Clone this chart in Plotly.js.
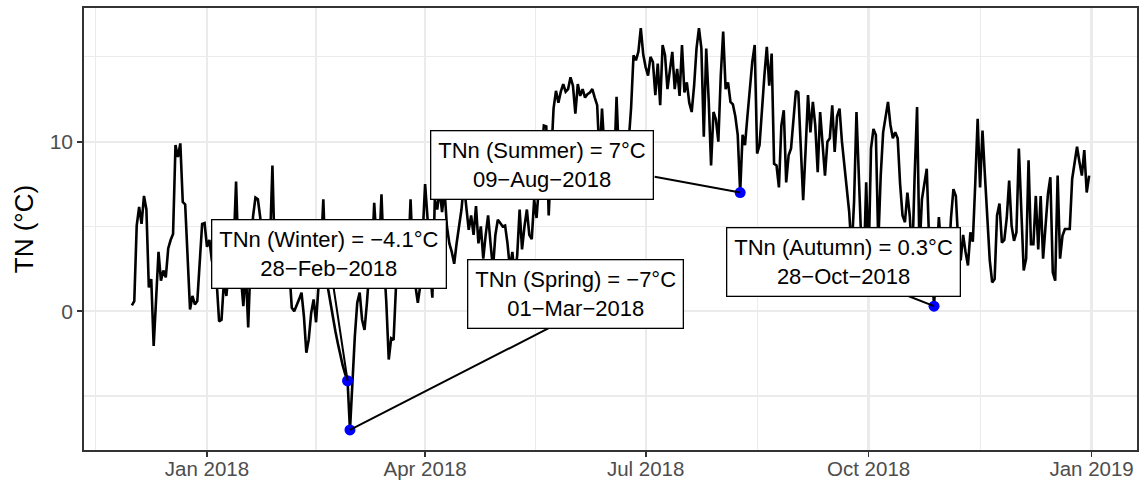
<!DOCTYPE html>
<html>
<head>
<meta charset="utf-8">
<script src="https://cdn.plot.ly/plotly-3.0.1.min.js"></script>
<style>html,body{margin:0;padding:0;background:#fff;}#chart{width:1143px;height:483px;}</style>
</head>
<body>
<div id="chart"></div>
<script>
// Daily minimum temperature TN (°C), 2017-12-01 .. 2018-12-31
var startDate = '2017-12-01';
var tnValues = [
  0.35, 0.6, 5.05, 6.15, 5.15, 6.8, 6.0, 1.4, 1.9, -2.05,
  0.7, 3.5, 1.8, 2.4, 2.0, 3.7, 4.2, 4.55, 9.8, 9.1,
  9.9, 6.45, 6.3, 3.0, 0.1, 0.9, 0.4, 0.6, 2.8, 5.15,
  5.2, 3.8, 4.2, 3.0, 2.5, 1.7, -0.6, -0.5, 1.8, 0.9,
  2.5, 3.5, 3.8, 7.65, 3.0, 2.0, 0.3, 2.5, -0.95, 3.0,
  5.6, 6.7, 6.6, 5.5, 3.5, 2.5, 3.5, 4.0, 8.6, 3.0,
  2.2, 4.0, 3.5, 2.5, 4.5, 2.0, 0.2, 0.0, 0.3, 0.7,
  1.1, -0.3, -2.45, -1.65, -0.1, 0.7, -0.65, 1.5, 3.5, 6.6,
  2.5, 1.3, 0.4, -0.5, -1.2, -1.9, -2.6, -3.2, -3.7, -4.1,
  -7.0, -4.0, -1.5, 0.5, 1.1, -0.5, -1.1, 0.5, 2.5, 3.0,
  6.4, 4.0, 3.5, 6.9, 3.0, 0.5, -2.85, -1.6, -1.7, 1.5,
  2.5, 3.5, 4.0, 2.8, 3.0, 6.6, 3.0, 1.5, 0.5, 1.5,
  4.5, 7.5, 5.5, 2.5, 0.8, 6.6, 6.0, 7.2, 5.85, 7.2,
  5.0, 4.0, 3.5, 2.8, 4.0, 5.05, 6.0, 7.5, 6.2, 4.8,
  5.65, 4.5, 6.2, 4.0, 5.0, 3.1, 4.5, 5.65, 4.0, 2.5,
  4.5, 5.4, 5.2, 5.0, 5.05, 4.0, 2.5, 3.5, 2.0, 3.3,
  6.0, 3.65, 5.0, 6.0, 4.5, 4.25, 6.6, 5.5, 7.5, 9.0,
  10.95, 10.9, 5.65, 9.0, 11.95, 13.0, 12.3, 12.95, 13.4, 12.95,
  13.1, 13.8, 13.3, 11.65, 13.4, 12.7, 13.1, 12.6, 12.8, 12.9,
  13.1, 12.6, 12.15, 9.0, 11.95, 9.5, 8.0, 10.0, 9.0, 8.5,
  12.65, 9.0, 8.0, 9.5, 7.5, 10.0,
  12.0, 15.1, 14.8, 15.3, 16.7, 15.15, 14.4, 13.9, 15.0, 14.7,
  12.75, 14.6, 12.15, 15.7, 15.1, 13.1, 14.3, 15.3, 13.1, 14.3,
  12.7, 15.7, 12.9, 13.5, 12.3, 11.75, 13.3, 15.5, 16.7, 15.5,
  10.3, 15.5, 12.5, 8.6, 11.75, 11.3, 10.0, 13.9, 16.5, 13.1,
  13.5, 12.35, 12.2, 11.5, 10.4, 7.0,
  10.4, 9.8, 11.5, 13.1, 14.7, 15.7, 9.3, 9.8, 12.0, 13.9,
  15.6, 13.3, 15.2, 8.7, 8.6, 7.3, 10.95, 11.85, 7.6,
  9.2, 9.6, 11.55, 13.0, 12.9, 9.5, 6.55, 9.5, 12.75, 10.55,
  12.35, 10.95, 8.2, 11.75, 9.8, 8.0, 10.0, 10.2, 12.15, 9.4,
  11.5, 11.95, 10.0, 8.6, 7.3, 5.85, 3.5, 6.45, 11.75, 8.2,
  4.0, 2.5, 7.6, 3.0, 9.6, 10.75, 10.4,
  4.0, 8.0, 10.55, 11.5, 12.35, 11.0, 10.2, 10.55, 10.2, 7.5,
  5.65, 5.25, 7.0, 5.6, 3.0, 8.0, 12.05, 3.5, 6.6, 7.5,
  8.4, 4.0, 3.0, 0.3, 3.0, 5.55, 3.5, 2.5, 4.5, 3.0,
  5.5, 7.2, 6.8, 4.0, 3.0, 4.5, 3.5,
  2.7, 4.65, 4.1, 7.5, 11.35, 7.3, 10.65, 8.0, 5.05, 3.0,
  1.7, 1.9, 5.65, 6.35, 4.05, 4.2, 5.5, 7.7, 5.05, 4.15,
  4.65, 9.6, 6.0, 2.4, 3.1, 8.9, 3.95, 3.95, 6.8, 3.65,
  6.8, 3.1, 5.0, 6.9, 7.9, 2.3, 1.8, 8.0, 3.1, 4.45,
  4.85, 4.85, 4.85, 7.8, 8.8, 9.7, 8.8, 8.0, 9.5, 7.0,
  8.0
];

// Seasonal minima (TNn)
var seasons = ['Winter', 'Spring', 'Summer', 'Autumn'];
var minDates = ['2018-02-28', '2018-03-01', '2018-08-09', '2018-10-28'];
var minLabels = ['28\u2212Feb\u22122018', '01\u2212Mar\u22122018', '09\u2212Aug\u22122018', '28\u2212Oct\u22122018'];
var minValues = [-4.1, -7, 7, 0.3];

// ---- build daily date axis ----
function pad(n){ return (n < 10 ? '0' : '') + n; }
var dates = [];
var t0 = Date.parse(startDate + 'T00:00:00Z');
for (var i = 0; i < tnValues.length; i++) {
  var d = new Date(t0 + i * 86400000);
  dates.push(d.getUTCFullYear() + '-' + pad(d.getUTCMonth() + 1) + '-' + pad(d.getUTCDate()));
}

function fmtNum(v){ return (v < 0 ? '\u2212' : '') + Math.abs(v); }

var lineTrace = {
  type: 'scatter', mode: 'lines',
  x: dates, y: tnValues,
  line: {color: '#000000', width: 2.6},
  hoverinfo: 'skip'
};
var pointTrace = {
  type: 'scatter', mode: 'markers',
  x: minDates, y: minValues,
  marker: {color: '#0000FF', size: 11},
  hoverinfo: 'skip'
};

// label placement (pixel offsets of box centre and connector end from the point)
var boxShift = [[-19, 127], [226, 136], [-198, 28], [-91, 44]];
var connEnd  = [[-15, -100], [209, -107], [-87, -16], [-33, -13]];

var annotations = [];
for (var k = 0; k < seasons.length; k++) {
  annotations.push({
    x: minDates[k], y: minValues[k], xref: 'x', yref: 'y',
    text: '', showarrow: true, arrowhead: 0, arrowwidth: 2,
    arrowcolor: '#000000', standoff: 0, startstandoff: 0,
    ax: connEnd[k][0], ay: connEnd[k][1]
  });
}
for (var k2 = 0; k2 < seasons.length; k2++) {
  annotations.push({
    x: minDates[k2], y: minValues[k2], xref: 'x', yref: 'y',
    showarrow: false, xanchor: 'center', yanchor: 'middle',
    xshift: boxShift[k2][0], yshift: boxShift[k2][1],
    text: 'TNn (' + seasons[k2] + ') = ' + fmtNum(minValues[k2]) + '\u00B0C<br>' + minLabels[k2],
    align: 'center',
    font: {family: 'Liberation Sans, Arial, sans-serif', size: 22, color: '#000000'},
    bgcolor: '#FFFFFF', bordercolor: '#000000', borderwidth: 1.3, borderpad: 7
  });
}

var layout = {
  width: 1143, height: 483,
  margin: {l: 84, r: 6, t: 8, b: 33},
  paper_bgcolor: '#FFFFFF', plot_bgcolor: '#FFFFFF',
  showlegend: false,
  font: {family: 'Liberation Sans, Arial, sans-serif', color: '#4D4D4D'},
  xaxis: {
    type: 'date',
    range: ['2017-11-11 06:00', '2019-01-19 18:00'],
    tickmode: 'linear', tick0: '2018-01-01', dtick: 'M3',
    tickformat: '%b %Y',
    ticks: 'outside', ticklen: 5, tickwidth: 1.8, tickcolor: '#333333',
    ticklabelstandoff: -5,
    tickfont: {size: 20.5, color: '#4D4D4D'},
    showline: true, linecolor: '#333333', linewidth: 1.8, mirror: true,
    showgrid: true, gridcolor: '#EBEBEB', gridwidth: 2.2,
    zeroline: false,
    minor: {tickmode: 'array', tickvals: ['2017-11-16', '2018-02-15', '2018-05-16 12:00', '2018-08-16', '2018-11-16'],
            showgrid: true, gridcolor: '#EBEBEB', gridwidth: 1.1, ticks: ''}
  },
  yaxis: {
    range: [-8.185, 17.885],
    tickmode: 'array', tickvals: [0, 10], ticktext: ['0', '10'],
    ticks: 'outside', ticklen: 5, tickwidth: 1.8, tickcolor: '#333333',
    tickfont: {size: 21, color: '#4D4D4D'},
    showline: true, linecolor: '#333333', linewidth: 1.8, mirror: true,
    showgrid: true, gridcolor: '#EBEBEB', gridwidth: 2.2,
    zeroline: false,
    minor: {tickmode: 'array', tickvals: [-5, 5, 15], showgrid: true, gridcolor: '#EBEBEB', gridwidth: 1.1, ticks: ''},
    title: {text: 'TN (\u00B0C)', font: {size: 26, color: '#000000'}, standoff: 8}
  },
  annotations: annotations
};

Plotly.newPlot('chart', [lineTrace, pointTrace], layout, {staticPlot: true, displayModeBar: false});
</script>
</body>
</html>
